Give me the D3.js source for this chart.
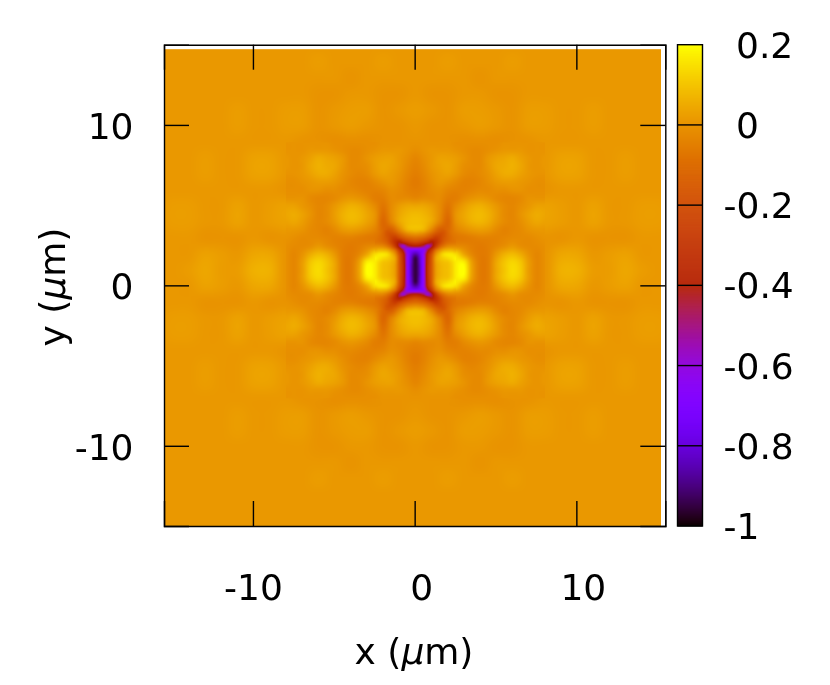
<!DOCTYPE html>
<html>
<head>
<meta charset="utf-8">
<script src="https://cdn.jsdelivr.net/npm/d3@7"></script>
<style>
  html, body { margin: 0; padding: 0; background: #fff; }
  svg { display: block; filter: blur(0.45px); }
  text { font-family: "DejaVu Sans", sans-serif; font-size: 36px; fill: #000; }
</style>
</head>
<body>
<div id="chart"></div>
<script>
// field values in hundredths, one quadrant, offsets measured from the pattern centre
// spacing 0.25 um, |dx| and |dy| up to 2.5
const fineRows = [
  [-95,-85,-64,-32,-15,1,6,8,9,12,17],
  [-95,-85,-64,-32,-15,1,6,8,9,12,17],
  [-95,-84,-64,-33,-15,2,7,9,10,13,17],
  [-94,-83,-64,-34,-15,3,9,12,14,16,18],
  [-86,-79,-63,-36,-18,-1,8,14,16,16,14],
  [-72,-70,-66,-46,-28,-10,-1,5,7,7,5],
  [-40,-42,-48,-58,-46,-27,-14,-7,-3,-2,-2],
  [-20,-22,-26,-32,-40,-32,-22,-14,-10,-8,-7],
  [-10,-11,-13,-17,-22,-26,-22,-16,-12,-9,-7],
  [0,-1,-3,-7,-12,-17,-19,-17,-12,-8,-6],
  [8,7,6,1,-4,-10,-14,-15,-11,-7,-4]
];
// spacing 0.5 um, up to 8
const midRows = [
  [-95,-64,-15,6,9,17,20,3,-6,-5,4,10,14,11,2,-3,-1],
  [-95,-64,-15,7,10,17,17,2,-6,-5,4,10,13,10,2,-3,-1],
  [-86,-63,-18,8,16,14,4,-3,-6,-5,1,6,8,5,0,-3,-1],
  [-40,-48,-46,-14,-3,-2,-3,-5,-6,-5,-3,-1,1,-1,-2,-2,-1],
  [-10,-13,-22,-22,-12,-7,-6,-5,-4,-4,-4,-3,-2,-2,-2,-1,0],
  [8,6,-4,-14,-11,-4,-1,1,2,1,-2,-4,-3,-2,0,1,1],
  [9,8,4,-4,-11,-1,3,6,7,5,1,-2,-3,-1,2,4,3],
  [8,7,4,-2,-9,0,4,7,8,6,2,-2,-3,0,3,5,4],
  [4,4,2,-2,-7,-2,2,5,6,4,1,-2,-3,-1,1,3,3],
  [-3,-2,-2,-2,-5,-5,-2,0,1,0,-2,-3,-3,-2,0,0,0],
  [-5,-4,-2,-1,-3,-4,-4,-3,-2,-2,-1,-1,0,0,-1,-1,-1],
  [-6,-4,-1,1,0,-2,-4,-4,-3,-1,1,2,2,1,0,-1,-1],
  [-5,-3,0,2,3,1,-2,-3,-2,0,3,5,5,3,1,0,0],
  [-4,-2,1,3,4,2,-1,-2,-2,1,4,5,6,4,1,0,1],
  [-3,-1,1,3,3,2,0,-2,-2,1,3,4,5,3,1,0,1],
  [-1,0,1,1,1,0,-1,-2,-2,-1,0,1,1,1,0,0,0],
  [0,0,0,0,0,-1,-1,-1,-1,-1,-1,0,0,0,0,0,0]
];
// spacing 1 um, up to 16
const outerRows = [
  [-95,-15,9,20,-6,4,14,2,0,6,6,2,2,4,2,1,1],
  [-86,-18,16,4,-6,1,8,0,0,4,4,1,2,3,1,1,1],
  [-10,-22,-12,-6,-4,-4,-2,-2,0,0,1,0,0,0,1,1,1],
  [9,4,-11,3,7,1,-3,2,3,2,1,3,1,1,2,2,1],
  [4,2,-7,2,6,1,-3,1,3,2,1,3,1,1,2,2,1],
  [-5,-2,-3,-4,-2,-1,0,-1,0,1,1,1,1,1,1,1,1],
  [-5,0,3,-2,-2,3,5,1,1,3,3,1,1,2,1,1,1],
  [-3,1,3,0,-2,3,5,1,1,3,3,1,1,2,1,1,1],
  [0,0,0,-1,-1,-1,0,0,1,1,1,1,1,1,1,1,1],
  [1,0,0,1,2,1,0,2,2,1,1,2,1,1,1,1,1],
  [2,1,0,2,2,1,0,2,2,1,1,2,1,1,1,1,1],
  [1,0,0,1,1,0,0,1,1,1,1,1,1,1,1,1,1],
  [1,1,1,1,0,1,1,1,1,1,1,1,1,1,1,1,1],
  [1,1,2,1,1,1,2,1,1,1,1,1,1,1,1,1,1],
  [1,1,1,1,1,1,1,1,1,1,1,1,1,1,1,1,1],
  [1,1,1,1,1,1,1,1,1,1,1,1,1,1,1,1,1],
  [1,1,1,1,1,1,1,1,1,1,1,1,1,1,1,1,1]
];
const xTicks = [-10, 0, 10];
const yTicks = [-10, 0, 10];
const cbTicks = [-1, -0.8, -0.6, -0.4, -0.2, 0, 0.2];
const centre = [0.05, 0.95]; // the pattern sits a bit above y = 0

const width = 830, height = 685;
const plotLeft = 164, plotRight = 665.3, plotTop = 44.7, plotBottom = 526;

const x = d3.scaleLinear().domain([-15.5, 15.5]).range([plotLeft, plotRight]);
const y = d3.scaleLinear().domain([-15, 15]).range([plotBottom, plotTop]);
const cbY = d3.scaleLinear().domain([-1, 0.2]).range([plotBottom, plotTop]);
const t = d3.scaleLinear().domain([-1, 0.2]).range([0, 1]).clamp(true);

// gnuplot default pm3d palette (rgbformulae 7,5,15)
function palette(v) {
  const a = t(v);
  return [
    Math.sqrt(a) * 255,
    a * a * a * 255,
    Math.max(0, Math.sin(2 * Math.PI * a)) * 255
  ];
}

function cubic(p0, p1, p2, p3, f) {
  return p1 + 0.5 * f * (p2 - p0 + f * (2 * p0 - 5 * p1 + 4 * p2 - p3 + f * (3 * (p1 - p2) + p3 - p0)));
}

function lookup(rows, step, dx, dy) {
  const n = rows.length - 1;
  const fx = Math.abs(dx) / step, fy = Math.abs(dy) / step;
  const i = Math.floor(fx), j = Math.floor(fy);
  const at = (r, c) => rows[Math.min(Math.abs(r), n)][Math.min(Math.abs(c), n)];
  const col = [];
  for (let r = j - 1; r <= j + 2; r++) {
    col.push(cubic(at(r, i - 1), at(r, i), at(r, i + 1), at(r, i + 2), fx - i));
  }
  return cubic(col[0], col[1], col[2], col[3], fy - j) / 100;
}

function field(px, py) {
  const dx = px - centre[0], dy = py - centre[1];
  const m = Math.max(Math.abs(dx), Math.abs(dy));
  if (m <= 2.5) return lookup(fineRows, 0.25, dx, dy);
  if (m <= 8) return lookup(midRows, 0.5, dx, dy);
  return lookup(outerRows, 1, dx, dy);
}

const svg = d3.select("#chart").append("svg")
  .attr("width", width)
  .attr("height", height);

// Heat map, the image stops short of the frame on the top and right
const imgBox = { x0: x(-15.5), x1: x(15.25), y0: y(14.72), y1: y(-15) };
const iw = Math.round(imgBox.x1 - imgBox.x0), ih = Math.round(imgBox.y1 - imgBox.y0);
const canvas = document.createElement("canvas");
canvas.width = iw;
canvas.height = ih;
const ctx = canvas.getContext("2d");
const img = ctx.createImageData(iw, ih);
for (let r = 0; r < ih; r++) {
  for (let c = 0; c < iw; c++) {
    const col = palette(field(x.invert(imgBox.x0 + c + 0.5), y.invert(imgBox.y0 + r + 0.5)));
    const k = (r * iw + c) * 4;
    img.data[k] = col[0];
    img.data[k + 1] = col[1];
    img.data[k + 2] = col[2];
    img.data[k + 3] = 255;
  }
}
ctx.putImageData(img, 0, 0);

svg.append("image")
  .attr("x", imgBox.x0)
  .attr("y", imgBox.y0)
  .attr("width", iw)
  .attr("height", ih)
  .attr("href", canvas.toDataURL());

// Frame and ticks
const tickLen = 25;
const hyphen = d => String(d);

svg.append("g").attr("transform", `translate(0,${plotBottom})`)
  .call(d3.axisBottom(x).tickValues(xTicks).tickSize(-tickLen).tickFormat(hyphen))
  .call(g => g.selectAll("text")
    .attr("y", 0).attr("dy", null)
    .attr("transform", "translate(0,74)")
    .attr("dx", d => d < 0 ? 0 : 6.5));
svg.append("g").attr("transform", `translate(0,${plotTop})`)
  .call(d3.axisTop(x).tickValues(xTicks).tickSize(-tickLen).tickFormat(""));
svg.append("g").attr("transform", `translate(${plotLeft},0)`)
  .call(d3.axisLeft(y).tickValues(yTicks).tickSize(-tickLen).tickFormat(hyphen))
  .call(g => g.selectAll("text")
    .attr("x", -30.5).attr("dy", null)
    .attr("y", 13.5));
svg.append("g").attr("transform", `translate(${plotRight},0)`)
  .call(d3.axisRight(y).tickValues(yTicks).tickSize(-tickLen).tickFormat(""));

svg.selectAll(".domain").attr("stroke", "#000").attr("stroke-width", 1.4);
svg.selectAll(".tick line").attr("stroke", "#000").attr("stroke-width", 1.4);
svg.selectAll("g text").style("font-size", "36px").style("font-family", '"DejaVu Sans", sans-serif');

// Colour box
const cbLeft = 677.5, cbRight = 702.5;
const cbSteps = d3.range(-1, 0.2, 0.0025);
svg.append("g").selectAll("rect")
  .data(cbSteps)
  .join("rect")
  .attr("x", cbLeft)
  .attr("width", cbRight - cbLeft)
  .attr("y", d => cbY(d + 0.0025))
  .attr("height", d => cbY(d) - cbY(d + 0.0025) + 0.5)
  .attr("fill", d => {
    const c = palette(d);
    return `rgb(${c[0]},${c[1]},${c[2]})`;
  });

svg.append("g").selectAll("line")
  .data(cbTicks.slice(1, -1))
  .join("line")
  .attr("x1", cbLeft)
  .attr("x2", cbRight)
  .attr("y1", cbY)
  .attr("y2", cbY)
  .attr("stroke", "#000")
  .attr("stroke-width", 1.4);

svg.append("rect")
  .attr("x", cbLeft)
  .attr("y", plotTop)
  .attr("width", cbRight - cbLeft)
  .attr("height", plotBottom - plotTop)
  .attr("fill", "none")
  .attr("stroke", "#000")
  .attr("stroke-width", 1.4);

svg.append("g").selectAll("text")
  .data(cbTicks)
  .join("text")
  .attr("x", d => d < 0 ? 723.5 : 736)
  .attr("y", d => cbY(d) + 13)
  .text(d => String(d));

// Axis titles
const xTitle = svg.append("text")
  .attr("x", 414)
  .attr("y", 664)
  .attr("text-anchor", "middle");
xTitle.append("tspan").text("x (");
xTitle.append("tspan").style("font-style", "italic").text("µ");
xTitle.append("tspan").text("m)");

const yTitle = svg.append("text")
  .attr("transform", `translate(65,287) rotate(-90)`)
  .attr("text-anchor", "middle");
yTitle.append("tspan").text("y (");
yTitle.append("tspan").style("font-style", "italic").text("µ");
yTitle.append("tspan").text("m)");
</script>
</body>
</html>
